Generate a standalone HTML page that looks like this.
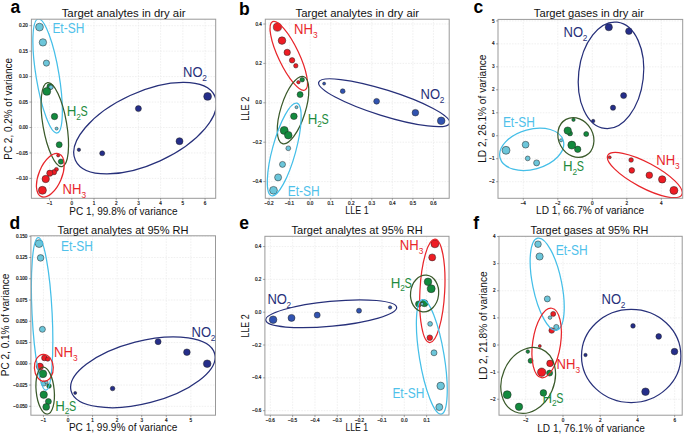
<!DOCTYPE html>
<html><head><meta charset="utf-8"><style>
html,body{margin:0;padding:0;background:#fff;}
svg{display:block;}
text{font-family:"Liberation Sans", sans-serif;}
</style></head><body>
<svg width="685" height="434" viewBox="0 0 685 434" font-family='"Liberation Sans", sans-serif'>
<rect width="685" height="434" fill="#fff"/>
<g stroke="#e9e9e9" stroke-width="0.7" stroke-dasharray="1.6 1.2"><line x1="49.59" y1="19.2" x2="49.59" y2="198.3"/><line x1="71.8" y1="19.2" x2="71.8" y2="198.3"/><line x1="94.01" y1="19.2" x2="94.01" y2="198.3"/><line x1="116.22" y1="19.2" x2="116.22" y2="198.3"/><line x1="138.43" y1="19.2" x2="138.43" y2="198.3"/><line x1="160.64" y1="19.2" x2="160.64" y2="198.3"/><line x1="182.85" y1="19.2" x2="182.85" y2="198.3"/><line x1="205.06" y1="19.2" x2="205.06" y2="198.3"/><line x1="31.4" y1="25.7" x2="215.7" y2="25.7"/><line x1="31.4" y1="51.15" x2="215.7" y2="51.15"/><line x1="31.4" y1="76.6" x2="215.7" y2="76.6"/><line x1="31.4" y1="102.05" x2="215.7" y2="102.05"/><line x1="31.4" y1="127.5" x2="215.7" y2="127.5"/><line x1="31.4" y1="152.95" x2="215.7" y2="152.95"/><line x1="31.4" y1="178.4" x2="215.7" y2="178.4"/></g>
<g stroke="#222" stroke-width="0.5"><circle cx="39.5" cy="27.1" r="3.9" fill="#6cc6da"/><circle cx="42.9" cy="42.4" r="3.7" fill="#6cc6da"/><circle cx="46.4" cy="63.1" r="3.1" fill="#6cc6da"/><circle cx="49.9" cy="86.6" r="3" fill="#138a3e"/><circle cx="51" cy="87.2" r="2.2" fill="#6cc6da"/><circle cx="46.8" cy="91.4" r="3.9" fill="#138a3e"/><circle cx="54.5" cy="116.5" r="3.2" fill="#138a3e"/><circle cx="59.2" cy="144.7" r="3" fill="#138a3e"/><circle cx="60.9" cy="161.6" r="2.6" fill="#138a3e"/><circle cx="56.6" cy="128.6" r="1.5" fill="#6cc6da"/><circle cx="58.2" cy="155.4" r="1.6" fill="#ee1c24"/><circle cx="56.4" cy="169.4" r="2" fill="#ee1c24"/><circle cx="54" cy="172.2" r="2.6" fill="#ee1c24"/><circle cx="49.8" cy="173.2" r="3.1" fill="#ee1c24"/><circle cx="45.7" cy="179" r="3.7" fill="#ee1c24"/><circle cx="42.4" cy="190.3" r="4" fill="#ee1c24"/><circle cx="78.9" cy="149.8" r="1.7" fill="#252e8a"/><circle cx="102.2" cy="153.3" r="2.5" fill="#252e8a"/><circle cx="138.4" cy="108.6" r="3" fill="#252e8a"/><circle cx="179.5" cy="141.2" r="3.5" fill="#252e8a"/><circle cx="207.6" cy="96.4" r="3.9" fill="#252e8a"/></g>
<clipPath id="ca"><rect x="31.4" y="19.2" width="184.3" height="179.1"/></clipPath>
<g fill="none" stroke-width="1.25" clip-path="url(#ca)"><ellipse cx="0" cy="0" rx="11.49" ry="57.8" transform="translate(47.62 75.94) rotate(170.62)" stroke="#45bfe8"/><ellipse cx="0" cy="0" rx="11.86" ry="42.54" transform="translate(54.8 124.6) rotate(170.23)" stroke="#3b5a2b"/><ellipse cx="0" cy="0" rx="11.51" ry="23.16" transform="translate(50.3 175.33) rotate(-157.28)" stroke="#e8262b"/><ellipse cx="0" cy="0" rx="35.96" ry="76.75" transform="translate(145.11 128.18) rotate(65.32)" stroke="#27307a"/></g>
<rect x="31.4" y="19.2" width="184.3" height="179.1" fill="none" stroke="#999" stroke-width="1"/>
<g stroke="#555" stroke-width="0.5"><line x1="49.59" y1="198.3" x2="49.59" y2="200.3"/><line x1="71.8" y1="198.3" x2="71.8" y2="200.3"/><line x1="94.01" y1="198.3" x2="94.01" y2="200.3"/><line x1="116.22" y1="198.3" x2="116.22" y2="200.3"/><line x1="138.43" y1="198.3" x2="138.43" y2="200.3"/><line x1="160.64" y1="198.3" x2="160.64" y2="200.3"/><line x1="182.85" y1="198.3" x2="182.85" y2="200.3"/><line x1="205.06" y1="198.3" x2="205.06" y2="200.3"/><line x1="29.4" y1="25.7" x2="31.4" y2="25.7"/><line x1="29.4" y1="51.15" x2="31.4" y2="51.15"/><line x1="29.4" y1="76.6" x2="31.4" y2="76.6"/><line x1="29.4" y1="102.05" x2="31.4" y2="102.05"/><line x1="29.4" y1="127.5" x2="31.4" y2="127.5"/><line x1="29.4" y1="152.95" x2="31.4" y2="152.95"/><line x1="29.4" y1="178.4" x2="31.4" y2="178.4"/></g>
<g font-size="4.6" fill="#111" stroke="#111" stroke-width="0.18"><text x="49.59" y="204.8" text-anchor="middle">−1</text><text x="71.8" y="204.8" text-anchor="middle">0</text><text x="94.01" y="204.8" text-anchor="middle">1</text><text x="116.22" y="204.8" text-anchor="middle">2</text><text x="138.43" y="204.8" text-anchor="middle">3</text><text x="160.64" y="204.8" text-anchor="middle">4</text><text x="182.85" y="204.8" text-anchor="middle">5</text><text x="205.06" y="204.8" text-anchor="middle">6</text><text x="27.9" y="27.3" text-anchor="end">0.20</text><text x="27.9" y="52.75" text-anchor="end">0.15</text><text x="27.9" y="78.2" text-anchor="end">0.10</text><text x="27.9" y="103.65" text-anchor="end">0.05</text><text x="27.9" y="129.1" text-anchor="end">0.00</text><text x="27.9" y="154.55" text-anchor="end">−0.05</text><text x="27.9" y="180" text-anchor="end">−0.10</text></g>
<text x="52.4" y="32.8" fill="#4fc1ea" font-size="14" textLength="31.9" lengthAdjust="spacingAndGlyphs">Et-SH</text>
<text x="66.7" y="116.3" fill="#1e8b3e" font-size="14" textLength="9.6" lengthAdjust="spacingAndGlyphs">H</text><text x="76.2" y="120" fill="#1e8b3e" font-size="8.3">2</text><text x="80.4" y="116.3" fill="#1e8b3e" font-size="14" textLength="7.2" lengthAdjust="spacingAndGlyphs">S</text>
<text x="62.5" y="193.8" fill="#e8262b" font-size="14" textLength="18.9" lengthAdjust="spacingAndGlyphs">NH</text><text x="81.4" y="197.5" fill="#e8262b" font-size="8.3">3</text>
<text x="183.1" y="76.8" fill="#27307a" font-size="14" textLength="19.5" lengthAdjust="spacingAndGlyphs">NO</text><text x="202.3" y="80.5" fill="#27307a" font-size="8.3">2</text>
<text x="61.7" y="16.8" font-size="11.8" textLength="123.8" lengthAdjust="spacingAndGlyphs" fill="#111">Target analytes in dry air</text>
<text x="69.3" y="214.7" font-size="10.2" textLength="108.2" lengthAdjust="spacingAndGlyphs" fill="#111">PC 1, 99.8% of variance</text>
<text x="0" y="0" transform="translate(12.3 159.7) rotate(-90)" font-size="10.2" textLength="101.7" lengthAdjust="spacingAndGlyphs" fill="#111">PC 2, 0.2% of variance</text>
<text x="10.6" y="12.8" font-size="17.5" font-weight="bold" fill="#000">a</text>
<g stroke="#e9e9e9" stroke-width="0.7" stroke-dasharray="1.6 1.2"><line x1="269.12" y1="19.2" x2="269.12" y2="198.3"/><line x1="289.66" y1="19.2" x2="289.66" y2="198.3"/><line x1="310.2" y1="19.2" x2="310.2" y2="198.3"/><line x1="330.74" y1="19.2" x2="330.74" y2="198.3"/><line x1="351.28" y1="19.2" x2="351.28" y2="198.3"/><line x1="371.82" y1="19.2" x2="371.82" y2="198.3"/><line x1="392.36" y1="19.2" x2="392.36" y2="198.3"/><line x1="412.9" y1="19.2" x2="412.9" y2="198.3"/><line x1="433.44" y1="19.2" x2="433.44" y2="198.3"/><line x1="265.3" y1="24" x2="449.2" y2="24"/><line x1="265.3" y1="63.4" x2="449.2" y2="63.4"/><line x1="265.3" y1="102.8" x2="449.2" y2="102.8"/><line x1="265.3" y1="142.2" x2="449.2" y2="142.2"/><line x1="265.3" y1="181.6" x2="449.2" y2="181.6"/></g>
<g stroke="#222" stroke-width="0.5"><circle cx="277.4" cy="27.1" r="4.1" fill="#ee1c24"/><circle cx="282" cy="40.6" r="3.8" fill="#ee1c24"/><circle cx="287.2" cy="52.4" r="3.2" fill="#ee1c24"/><circle cx="292.1" cy="60.3" r="2.7" fill="#ee1c24"/><circle cx="295.8" cy="65.8" r="2.2" fill="#ee1c24"/><circle cx="302.2" cy="79.7" r="2.3" fill="#138a3e"/><circle cx="298.4" cy="82.2" r="1.7" fill="#ee1c24"/><circle cx="300.1" cy="94.6" r="3" fill="#138a3e"/><circle cx="293.9" cy="116.3" r="3.3" fill="#138a3e"/><circle cx="284.2" cy="130.4" r="4" fill="#138a3e"/><circle cx="288.3" cy="135.2" r="3.8" fill="#138a3e"/><circle cx="296.5" cy="107.2" r="1.5" fill="#6cc6da"/><circle cx="288.3" cy="148.3" r="2.4" fill="#6cc6da"/><circle cx="282.5" cy="164.4" r="3" fill="#6cc6da"/><circle cx="278.1" cy="177.4" r="3.5" fill="#6cc6da"/><circle cx="273.5" cy="190.3" r="3.9" fill="#6cc6da"/><circle cx="324.1" cy="83.6" r="1.5" fill="#3153b0"/><circle cx="342.7" cy="91.2" r="2.4" fill="#3153b0"/><circle cx="376.6" cy="101.3" r="2.9" fill="#3153b0"/><circle cx="415.4" cy="112.7" r="3.3" fill="#3153b0"/><circle cx="441.2" cy="120.8" r="3.8" fill="#3153b0"/></g>
<clipPath id="cb"><rect x="265.3" y="19.2" width="183.9" height="179.1"/></clipPath>
<g fill="none" stroke-width="1.25" clip-path="url(#cb)"><ellipse cx="0" cy="0" rx="10.35" ry="37.82" transform="translate(288.77 55.84) rotate(154.59)" stroke="#e8262b"/><ellipse cx="0" cy="0" rx="12.23" ry="35.18" transform="translate(293.05 110.03) rotate(-162.48)" stroke="#3b5a2b"/><ellipse cx="0" cy="0" rx="11.64" ry="47.97" transform="translate(284.22 149.47) rotate(-164.66)" stroke="#45bfe8"/><ellipse cx="0" cy="0" rx="68.58" ry="12.95" transform="translate(384.18 102.73) rotate(-162.62)" stroke="#27307a"/></g>
<rect x="265.3" y="19.2" width="183.9" height="179.1" fill="none" stroke="#999" stroke-width="1"/>
<g stroke="#555" stroke-width="0.5"><line x1="269.12" y1="198.3" x2="269.12" y2="200.3"/><line x1="289.66" y1="198.3" x2="289.66" y2="200.3"/><line x1="310.2" y1="198.3" x2="310.2" y2="200.3"/><line x1="330.74" y1="198.3" x2="330.74" y2="200.3"/><line x1="351.28" y1="198.3" x2="351.28" y2="200.3"/><line x1="371.82" y1="198.3" x2="371.82" y2="200.3"/><line x1="392.36" y1="198.3" x2="392.36" y2="200.3"/><line x1="412.9" y1="198.3" x2="412.9" y2="200.3"/><line x1="433.44" y1="198.3" x2="433.44" y2="200.3"/><line x1="263.3" y1="24" x2="265.3" y2="24"/><line x1="263.3" y1="63.4" x2="265.3" y2="63.4"/><line x1="263.3" y1="102.8" x2="265.3" y2="102.8"/><line x1="263.3" y1="142.2" x2="265.3" y2="142.2"/><line x1="263.3" y1="181.6" x2="265.3" y2="181.6"/></g>
<g font-size="4.6" fill="#111" stroke="#111" stroke-width="0.18"><text x="269.12" y="204.8" text-anchor="middle">−0.2</text><text x="289.66" y="204.8" text-anchor="middle">−0.1</text><text x="310.2" y="204.8" text-anchor="middle">0.0</text><text x="330.74" y="204.8" text-anchor="middle">0.1</text><text x="351.28" y="204.8" text-anchor="middle">0.2</text><text x="371.82" y="204.8" text-anchor="middle">0.3</text><text x="392.36" y="204.8" text-anchor="middle">0.4</text><text x="412.9" y="204.8" text-anchor="middle">0.5</text><text x="433.44" y="204.8" text-anchor="middle">0.6</text><text x="261.8" y="25.6" text-anchor="end">0.4</text><text x="261.8" y="65" text-anchor="end">0.2</text><text x="261.8" y="104.4" text-anchor="end">0.0</text><text x="261.8" y="143.8" text-anchor="end">−0.2</text><text x="261.8" y="183.2" text-anchor="end">−0.4</text></g>
<text x="294.1" y="33.9" fill="#e8262b" font-size="14" textLength="18.9" lengthAdjust="spacingAndGlyphs">NH</text><text x="313" y="37.6" fill="#e8262b" font-size="8.3">3</text>
<text x="307.8" y="123.6" fill="#1e8b3e" font-size="14" textLength="9.6" lengthAdjust="spacingAndGlyphs">H</text><text x="317.3" y="127.3" fill="#1e8b3e" font-size="8.3">2</text><text x="321.5" y="123.6" fill="#1e8b3e" font-size="14" textLength="7.2" lengthAdjust="spacingAndGlyphs">S</text>
<text x="287.7" y="195.6" fill="#4fc1ea" font-size="14" textLength="31.9" lengthAdjust="spacingAndGlyphs">Et-SH</text>
<text x="420.6" y="98.9" fill="#27307a" font-size="14" textLength="19.5" lengthAdjust="spacingAndGlyphs">NO</text><text x="439.8" y="102.6" fill="#27307a" font-size="8.3">2</text>
<text x="295.5" y="16.9" font-size="11.8" textLength="123.5" lengthAdjust="spacingAndGlyphs" fill="#111">Target analytes in dry air</text>
<text x="345.3" y="214.4" font-size="10.2" textLength="23.3" lengthAdjust="spacingAndGlyphs" fill="#111">LLE 1</text>
<text x="0" y="0" transform="translate(249.4 120.8) rotate(-90)" font-size="10.2" textLength="24.2" lengthAdjust="spacingAndGlyphs" fill="#111">LLE 2</text>
<text x="239" y="14.7" font-size="17.5" font-weight="bold" fill="#000">b</text>
<g stroke="#e9e9e9" stroke-width="0.7" stroke-dasharray="1.6 1.2"><line x1="523.3" y1="19.4" x2="523.3" y2="198.3"/><line x1="557.8" y1="19.4" x2="557.8" y2="198.3"/><line x1="592.3" y1="19.4" x2="592.3" y2="198.3"/><line x1="626.8" y1="19.4" x2="626.8" y2="198.3"/><line x1="661.3" y1="19.4" x2="661.3" y2="198.3"/><line x1="498" y1="20.9" x2="682.7" y2="20.9"/><line x1="498" y1="43.87" x2="682.7" y2="43.87"/><line x1="498" y1="66.84" x2="682.7" y2="66.84"/><line x1="498" y1="89.81" x2="682.7" y2="89.81"/><line x1="498" y1="112.78" x2="682.7" y2="112.78"/><line x1="498" y1="135.75" x2="682.7" y2="135.75"/><line x1="498" y1="158.72" x2="682.7" y2="158.72"/><line x1="498" y1="181.69" x2="682.7" y2="181.69"/></g>
<g stroke="#222" stroke-width="0.5"><circle cx="593.2" cy="121" r="1.7" fill="#252e8a"/><circle cx="613" cy="107.7" r="2.6" fill="#252e8a"/><circle cx="623.6" cy="95.6" r="3" fill="#252e8a"/><circle cx="628.9" cy="31.2" r="3.3" fill="#252e8a"/><circle cx="608.8" cy="27.2" r="3.6" fill="#252e8a"/><circle cx="561.1" cy="140.3" r="1.6" fill="#6cc6da"/><circle cx="527.7" cy="158.4" r="2.4" fill="#6cc6da"/><circle cx="536.6" cy="162.9" r="3" fill="#6cc6da"/><circle cx="525.6" cy="144.7" r="3.4" fill="#6cc6da"/><circle cx="506" cy="150.3" r="4" fill="#6cc6da"/><circle cx="573.5" cy="119.8" r="1.7" fill="#138a3e"/><circle cx="586.2" cy="134" r="2.5" fill="#138a3e"/><circle cx="570" cy="133.4" r="2.5" fill="#138a3e"/><circle cx="567.7" cy="130.6" r="3.7" fill="#138a3e"/><circle cx="577.7" cy="149.3" r="3.2" fill="#138a3e"/><circle cx="571.8" cy="145.1" r="4" fill="#138a3e"/><circle cx="609.7" cy="157.3" r="1.5" fill="#ee1c24"/><circle cx="631.1" cy="160" r="2.3" fill="#ee1c24"/><circle cx="631.8" cy="170.4" r="2.8" fill="#ee1c24"/><circle cx="649.3" cy="175.2" r="3.3" fill="#ee1c24"/><circle cx="662.2" cy="179.4" r="3.7" fill="#ee1c24"/><circle cx="673.9" cy="190.4" r="4" fill="#ee1c24"/></g>
<clipPath id="cc"><rect x="498" y="19.4" width="184.7" height="178.9"/></clipPath>
<g fill="none" stroke-width="1.25" clip-path="url(#cc)"><ellipse cx="0" cy="0" rx="32.38" ry="53.5" transform="translate(610.99 75.32) rotate(-173.38)" stroke="#27307a"/><ellipse cx="0" cy="0" rx="32.8" ry="20" transform="translate(531.7 149.3) rotate(-15.45)" stroke="#45bfe8"/><ellipse cx="0" cy="0" rx="20.62" ry="17.22" transform="translate(575.85 137.52) rotate(61.49)" stroke="#3b5a2b"/><ellipse cx="0" cy="0" rx="41.91" ry="12.53" transform="translate(644.82 175.03) rotate(28.06)" stroke="#e8262b"/></g>
<rect x="498" y="19.4" width="184.7" height="178.9" fill="none" stroke="#999" stroke-width="1"/>
<g stroke="#555" stroke-width="0.5"><line x1="523.3" y1="198.3" x2="523.3" y2="200.3"/><line x1="557.8" y1="198.3" x2="557.8" y2="200.3"/><line x1="592.3" y1="198.3" x2="592.3" y2="200.3"/><line x1="626.8" y1="198.3" x2="626.8" y2="200.3"/><line x1="661.3" y1="198.3" x2="661.3" y2="200.3"/><line x1="496" y1="20.9" x2="498" y2="20.9"/><line x1="496" y1="43.87" x2="498" y2="43.87"/><line x1="496" y1="66.84" x2="498" y2="66.84"/><line x1="496" y1="89.81" x2="498" y2="89.81"/><line x1="496" y1="112.78" x2="498" y2="112.78"/><line x1="496" y1="135.75" x2="498" y2="135.75"/><line x1="496" y1="158.72" x2="498" y2="158.72"/><line x1="496" y1="181.69" x2="498" y2="181.69"/></g>
<g font-size="4.6" fill="#111" stroke="#111" stroke-width="0.18"><text x="523.3" y="204.8" text-anchor="middle">−4</text><text x="557.8" y="204.8" text-anchor="middle">−2</text><text x="592.3" y="204.8" text-anchor="middle">0</text><text x="626.8" y="204.8" text-anchor="middle">2</text><text x="661.3" y="204.8" text-anchor="middle">4</text><text x="494.5" y="22.5" text-anchor="end">5</text><text x="494.5" y="45.47" text-anchor="end">4</text><text x="494.5" y="68.44" text-anchor="end">3</text><text x="494.5" y="91.41" text-anchor="end">2</text><text x="494.5" y="114.38" text-anchor="end">1</text><text x="494.5" y="137.35" text-anchor="end">0</text><text x="494.5" y="160.32" text-anchor="end">−1</text><text x="494.5" y="183.29" text-anchor="end">−2</text></g>
<text x="563.6" y="37.1" fill="#27307a" font-size="14" textLength="19.5" lengthAdjust="spacingAndGlyphs">NO</text><text x="582.8" y="40.8" fill="#27307a" font-size="8.3">2</text>
<text x="502.9" y="126.6" fill="#4fc1ea" font-size="14" textLength="31.9" lengthAdjust="spacingAndGlyphs">Et-SH</text>
<text x="563" y="171.3" fill="#1e8b3e" font-size="14" textLength="9.6" lengthAdjust="spacingAndGlyphs">H</text><text x="572.5" y="175" fill="#1e8b3e" font-size="8.3">2</text><text x="576.7" y="171.3" fill="#1e8b3e" font-size="14" textLength="7.2" lengthAdjust="spacingAndGlyphs">S</text>
<text x="656.2" y="164.9" fill="#e8262b" font-size="14" textLength="18.9" lengthAdjust="spacingAndGlyphs">NH</text><text x="675.1" y="168.6" fill="#e8262b" font-size="8.3">3</text>
<text x="533.8" y="16.6" font-size="11.8" textLength="110.2" lengthAdjust="spacingAndGlyphs" fill="#111">Target gases in dry air</text>
<text x="536" y="214.3" font-size="10.2" textLength="108.2" lengthAdjust="spacingAndGlyphs" fill="#111">LD 1, 66.7% of variance</text>
<text x="0" y="0" transform="translate(485.8 162.8) rotate(-90)" font-size="10.2" textLength="108.3" lengthAdjust="spacingAndGlyphs" fill="#111">LD 2, 26.1% of variance</text>
<text x="473.5" y="13.3" font-size="17.5" font-weight="bold" fill="#000">c</text>
<g stroke="#e9e9e9" stroke-width="0.7" stroke-dasharray="1.6 1.2"><line x1="43.43" y1="235.8" x2="43.43" y2="415.2"/><line x1="68" y1="235.8" x2="68" y2="415.2"/><line x1="92.57" y1="235.8" x2="92.57" y2="415.2"/><line x1="117.14" y1="235.8" x2="117.14" y2="415.2"/><line x1="141.71" y1="235.8" x2="141.71" y2="415.2"/><line x1="166.28" y1="235.8" x2="166.28" y2="415.2"/><line x1="190.85" y1="235.8" x2="190.85" y2="415.2"/><line x1="30.9" y1="236.24" x2="215.5" y2="236.24"/><line x1="30.9" y1="257.5" x2="215.5" y2="257.5"/><line x1="30.9" y1="278.76" x2="215.5" y2="278.76"/><line x1="30.9" y1="300.02" x2="215.5" y2="300.02"/><line x1="30.9" y1="321.28" x2="215.5" y2="321.28"/><line x1="30.9" y1="342.54" x2="215.5" y2="342.54"/><line x1="30.9" y1="363.8" x2="215.5" y2="363.8"/><line x1="30.9" y1="385.06" x2="215.5" y2="385.06"/><line x1="30.9" y1="406.32" x2="215.5" y2="406.32"/></g>
<g stroke="#222" stroke-width="0.5"><circle cx="39.1" cy="243.6" r="3.9" fill="#6cc6da"/><circle cx="40.6" cy="257.9" r="3.3" fill="#6cc6da"/><circle cx="42.4" cy="329.3" r="3" fill="#6cc6da"/><circle cx="44.5" cy="357.9" r="2.9" fill="#ee1c24"/><circle cx="47.8" cy="359.1" r="2.2" fill="#ee1c24"/><circle cx="39.9" cy="366.6" r="3.5" fill="#ee1c24"/><circle cx="42.9" cy="373.8" r="3.9" fill="#138a3e"/><circle cx="43.8" cy="383.6" r="2.5" fill="#6cc6da"/><circle cx="46.4" cy="382.3" r="1.6" fill="#6cc6da"/><circle cx="49" cy="386" r="2.3" fill="#138a3e"/><circle cx="43.7" cy="394.7" r="3.7" fill="#138a3e"/><circle cx="48.4" cy="401.5" r="3" fill="#138a3e"/><circle cx="46.2" cy="406.9" r="3.4" fill="#138a3e"/><circle cx="75.2" cy="392.9" r="1.5" fill="#252e8a"/><circle cx="112.6" cy="388.5" r="2.3" fill="#252e8a"/><circle cx="158.1" cy="341.7" r="3" fill="#252e8a"/><circle cx="186.9" cy="352.2" r="3.3" fill="#252e8a"/><circle cx="207.2" cy="363.7" r="3.8" fill="#252e8a"/></g>
<clipPath id="cd"><rect x="30.9" y="235.8" width="184.6" height="179.4"/></clipPath>
<g fill="none" stroke-width="1.25" clip-path="url(#cd)"><ellipse cx="0" cy="0" rx="76.36" ry="10.05" transform="translate(42.1 313.89) rotate(-92.86)" stroke="#45bfe8"/><ellipse cx="0" cy="0" rx="13.47" ry="9.45" transform="translate(43.84 367.74) rotate(-92.64)" stroke="#e8262b"/><ellipse cx="0" cy="0" rx="9.03" ry="23.59" transform="translate(45.17 390.56) rotate(174.54)" stroke="#3b5a2b"/><ellipse cx="0" cy="0" rx="31.16" ry="74.16" transform="translate(142.88 372.28) rotate(75.55)" stroke="#27307a"/></g>
<rect x="30.9" y="235.8" width="184.6" height="179.4" fill="none" stroke="#999" stroke-width="1"/>
<g stroke="#555" stroke-width="0.5"><line x1="43.43" y1="415.2" x2="43.43" y2="417.2"/><line x1="68" y1="415.2" x2="68" y2="417.2"/><line x1="92.57" y1="415.2" x2="92.57" y2="417.2"/><line x1="117.14" y1="415.2" x2="117.14" y2="417.2"/><line x1="141.71" y1="415.2" x2="141.71" y2="417.2"/><line x1="166.28" y1="415.2" x2="166.28" y2="417.2"/><line x1="190.85" y1="415.2" x2="190.85" y2="417.2"/><line x1="28.9" y1="236.24" x2="30.9" y2="236.24"/><line x1="28.9" y1="257.5" x2="30.9" y2="257.5"/><line x1="28.9" y1="278.76" x2="30.9" y2="278.76"/><line x1="28.9" y1="300.02" x2="30.9" y2="300.02"/><line x1="28.9" y1="321.28" x2="30.9" y2="321.28"/><line x1="28.9" y1="342.54" x2="30.9" y2="342.54"/><line x1="28.9" y1="363.8" x2="30.9" y2="363.8"/><line x1="28.9" y1="385.06" x2="30.9" y2="385.06"/><line x1="28.9" y1="406.32" x2="30.9" y2="406.32"/></g>
<g font-size="4.6" fill="#111" stroke="#111" stroke-width="0.18"><text x="43.43" y="421.7" text-anchor="middle">−1</text><text x="68" y="421.7" text-anchor="middle">0</text><text x="92.57" y="421.7" text-anchor="middle">1</text><text x="117.14" y="421.7" text-anchor="middle">2</text><text x="141.71" y="421.7" text-anchor="middle">3</text><text x="166.28" y="421.7" text-anchor="middle">4</text><text x="190.85" y="421.7" text-anchor="middle">5</text><text x="27.4" y="237.84" text-anchor="end">0.150</text><text x="27.4" y="259.1" text-anchor="end">0.125</text><text x="27.4" y="280.36" text-anchor="end">0.100</text><text x="27.4" y="301.62" text-anchor="end">0.075</text><text x="27.4" y="322.88" text-anchor="end">0.050</text><text x="27.4" y="344.14" text-anchor="end">0.025</text><text x="27.4" y="365.4" text-anchor="end">0.000</text><text x="27.4" y="386.66" text-anchor="end">−0.025</text><text x="27.4" y="407.92" text-anchor="end">−0.050</text></g>
<text x="61" y="250.8" fill="#4fc1ea" font-size="14" textLength="31.9" lengthAdjust="spacingAndGlyphs">Et-SH</text>
<text x="54" y="357.2" fill="#e8262b" font-size="14" textLength="18.9" lengthAdjust="spacingAndGlyphs">NH</text><text x="72.9" y="360.9" fill="#e8262b" font-size="8.3">3</text>
<text x="55.3" y="410.5" fill="#1e8b3e" font-size="14" textLength="9.6" lengthAdjust="spacingAndGlyphs">H</text><text x="64.8" y="414.2" fill="#1e8b3e" font-size="8.3">2</text><text x="69" y="410.5" fill="#1e8b3e" font-size="14" textLength="7.2" lengthAdjust="spacingAndGlyphs">S</text>
<text x="191.5" y="337.1" fill="#27307a" font-size="14" textLength="19.5" lengthAdjust="spacingAndGlyphs">NO</text><text x="210.7" y="340.8" fill="#27307a" font-size="8.3">2</text>
<text x="57.4" y="233.6" font-size="11.8" textLength="131.1" lengthAdjust="spacingAndGlyphs" fill="#111">Target analytes at 95% RH</text>
<text x="68.9" y="431.3" font-size="10.2" textLength="108.4" lengthAdjust="spacingAndGlyphs" fill="#111">PC 1, 99.9% of variance</text>
<text x="0" y="0" transform="translate(9.3 376.2) rotate(-90)" font-size="10.2" textLength="102.6" lengthAdjust="spacingAndGlyphs" fill="#111">PC 2, 0.1% of variance</text>
<text x="9.5" y="228.7" font-size="17.5" font-weight="bold" fill="#000">d</text>
<g stroke="#e9e9e9" stroke-width="0.7" stroke-dasharray="1.6 1.2"><line x1="270.32" y1="236.3" x2="270.32" y2="415.1"/><line x1="292.65" y1="236.3" x2="292.65" y2="415.1"/><line x1="314.98" y1="236.3" x2="314.98" y2="415.1"/><line x1="337.31" y1="236.3" x2="337.31" y2="415.1"/><line x1="359.64" y1="236.3" x2="359.64" y2="415.1"/><line x1="381.97" y1="236.3" x2="381.97" y2="415.1"/><line x1="404.3" y1="236.3" x2="404.3" y2="415.1"/><line x1="426.63" y1="236.3" x2="426.63" y2="415.1"/><line x1="264.9" y1="246.56" x2="449" y2="246.56"/><line x1="264.9" y1="279.38" x2="449" y2="279.38"/><line x1="264.9" y1="312.2" x2="449" y2="312.2"/><line x1="264.9" y1="345.02" x2="449" y2="345.02"/><line x1="264.9" y1="377.84" x2="449" y2="377.84"/><line x1="264.9" y1="410.66" x2="449" y2="410.66"/></g>
<g stroke="#222" stroke-width="0.5"><circle cx="390.1" cy="307.4" r="1.7" fill="#3153b0"/><circle cx="359" cy="310.7" r="2.5" fill="#3153b0"/><circle cx="317.2" cy="315.1" r="3" fill="#3153b0"/><circle cx="291.5" cy="317.9" r="3.5" fill="#3153b0"/><circle cx="273.1" cy="319.7" r="3.8" fill="#3153b0"/><circle cx="434.9" cy="243.8" r="4" fill="#ee1c24"/><circle cx="432.2" cy="257.4" r="3.5" fill="#ee1c24"/><circle cx="429.8" cy="337.7" r="2.8" fill="#ee1c24"/><circle cx="428" cy="281.8" r="3.8" fill="#138a3e"/><circle cx="431.2" cy="288.7" r="4" fill="#138a3e"/><circle cx="418.6" cy="304" r="3.1" fill="#138a3e"/><circle cx="424.4" cy="303.2" r="3.5" fill="#138a3e"/><circle cx="422.1" cy="303.9" r="1.5" fill="#6cc6da"/><circle cx="430.1" cy="323.9" r="2.4" fill="#6cc6da"/><circle cx="434" cy="352.8" r="3" fill="#6cc6da"/><circle cx="440.7" cy="385.9" r="3.8" fill="#6cc6da"/><circle cx="439.3" cy="407.1" r="3.5" fill="#6cc6da"/></g>
<clipPath id="ce"><rect x="264.9" y="236.3" width="184.1" height="178.8"/></clipPath>
<g fill="none" stroke-width="1.25" clip-path="url(#ce)"><ellipse cx="0" cy="0" rx="12.45" ry="65.77" transform="translate(331.19 313.77) rotate(84.44)" stroke="#27307a"/><ellipse cx="0" cy="0" rx="12.39" ry="51.82" transform="translate(432.33 290.86) rotate(-177.06)" stroke="#e8262b"/><ellipse cx="0" cy="0" rx="57.98" ry="12.38" transform="translate(431.82 356.82) rotate(-99.36)" stroke="#45bfe8"/><ellipse cx="0" cy="0" rx="18.4" ry="14.04" transform="translate(424.6 293.5) rotate(-83.74)" stroke="#3b5a2b"/></g>
<rect x="264.9" y="236.3" width="184.1" height="178.8" fill="none" stroke="#999" stroke-width="1"/>
<g stroke="#555" stroke-width="0.5"><line x1="270.32" y1="415.1" x2="270.32" y2="417.1"/><line x1="292.65" y1="415.1" x2="292.65" y2="417.1"/><line x1="314.98" y1="415.1" x2="314.98" y2="417.1"/><line x1="337.31" y1="415.1" x2="337.31" y2="417.1"/><line x1="359.64" y1="415.1" x2="359.64" y2="417.1"/><line x1="381.97" y1="415.1" x2="381.97" y2="417.1"/><line x1="404.3" y1="415.1" x2="404.3" y2="417.1"/><line x1="426.63" y1="415.1" x2="426.63" y2="417.1"/><line x1="262.9" y1="246.56" x2="264.9" y2="246.56"/><line x1="262.9" y1="279.38" x2="264.9" y2="279.38"/><line x1="262.9" y1="312.2" x2="264.9" y2="312.2"/><line x1="262.9" y1="345.02" x2="264.9" y2="345.02"/><line x1="262.9" y1="377.84" x2="264.9" y2="377.84"/><line x1="262.9" y1="410.66" x2="264.9" y2="410.66"/></g>
<g font-size="4.6" fill="#111" stroke="#111" stroke-width="0.18"><text x="270.32" y="421.6" text-anchor="middle">−0.6</text><text x="292.65" y="421.6" text-anchor="middle">−0.5</text><text x="314.98" y="421.6" text-anchor="middle">−0.4</text><text x="337.31" y="421.6" text-anchor="middle">−0.3</text><text x="359.64" y="421.6" text-anchor="middle">−0.2</text><text x="381.97" y="421.6" text-anchor="middle">−0.1</text><text x="404.3" y="421.6" text-anchor="middle">0.0</text><text x="426.63" y="421.6" text-anchor="middle">0.1</text><text x="261.4" y="248.16" text-anchor="end">0.4</text><text x="261.4" y="280.98" text-anchor="end">0.2</text><text x="261.4" y="313.8" text-anchor="end">0.0</text><text x="261.4" y="346.62" text-anchor="end">−0.2</text><text x="261.4" y="379.44" text-anchor="end">−0.4</text><text x="261.4" y="412.26" text-anchor="end">−0.6</text></g>
<text x="399.8" y="249.9" fill="#e8262b" font-size="14" textLength="18.9" lengthAdjust="spacingAndGlyphs">NH</text><text x="418.7" y="253.6" fill="#e8262b" font-size="8.3">3</text>
<text x="390.8" y="287.6" fill="#1e8b3e" font-size="14" textLength="9.6" lengthAdjust="spacingAndGlyphs">H</text><text x="400.3" y="291.3" fill="#1e8b3e" font-size="8.3">2</text><text x="404.5" y="287.6" fill="#1e8b3e" font-size="14" textLength="7.2" lengthAdjust="spacingAndGlyphs">S</text>
<text x="267.4" y="303.9" fill="#27307a" font-size="14" textLength="19.5" lengthAdjust="spacingAndGlyphs">NO</text><text x="286.6" y="307.6" fill="#27307a" font-size="8.3">2</text>
<text x="392.4" y="397.6" fill="#4fc1ea" font-size="14" textLength="31.9" lengthAdjust="spacingAndGlyphs">Et-SH</text>
<text x="291.5" y="233.6" font-size="11.8" textLength="131.1" lengthAdjust="spacingAndGlyphs" fill="#111">Target analytes at 95% RH</text>
<text x="345.4" y="431.3" font-size="10.2" textLength="22.7" lengthAdjust="spacingAndGlyphs" fill="#111">LLE 1</text>
<text x="0" y="0" transform="translate(248.7 337.5) rotate(-90)" font-size="10.2" textLength="23.1" lengthAdjust="spacingAndGlyphs" fill="#111">LLE 2</text>
<text x="239.2" y="229.1" font-size="17.5" font-weight="bold" fill="#000">e</text>
<g stroke="#e9e9e9" stroke-width="0.7" stroke-dasharray="1.6 1.2"><line x1="525.78" y1="236.3" x2="525.78" y2="415.2"/><line x1="563" y1="236.3" x2="563" y2="415.2"/><line x1="600.22" y1="236.3" x2="600.22" y2="415.2"/><line x1="637.44" y1="236.3" x2="637.44" y2="415.2"/><line x1="674.66" y1="236.3" x2="674.66" y2="415.2"/><line x1="499" y1="236.52" x2="682.2" y2="236.52"/><line x1="499" y1="263.64" x2="682.2" y2="263.64"/><line x1="499" y1="290.76" x2="682.2" y2="290.76"/><line x1="499" y1="317.88" x2="682.2" y2="317.88"/><line x1="499" y1="345" x2="682.2" y2="345"/><line x1="499" y1="372.12" x2="682.2" y2="372.12"/><line x1="499" y1="399.24" x2="682.2" y2="399.24"/></g>
<g stroke="#222" stroke-width="0.5"><circle cx="538" cy="244.2" r="3.3" fill="#6cc6da"/><circle cx="539.6" cy="256.5" r="3.6" fill="#6cc6da"/><circle cx="547.3" cy="298.9" r="3" fill="#6cc6da"/><circle cx="553.2" cy="313.9" r="2.5" fill="#ee1c24"/><circle cx="550" cy="317.6" r="1.8" fill="#6cc6da"/><circle cx="551.7" cy="330.5" r="2.8" fill="#ee1c24"/><circle cx="556.3" cy="327" r="2.6" fill="#6cc6da"/><circle cx="539.8" cy="346" r="1.5" fill="#ee1c24"/><circle cx="527.8" cy="351.6" r="1.8" fill="#138a3e"/><circle cx="530.6" cy="360.8" r="2.5" fill="#138a3e"/><circle cx="549.6" cy="373.1" r="3" fill="#138a3e"/><circle cx="550" cy="363.4" r="3.3" fill="#ee1c24"/><circle cx="541.7" cy="372.2" r="4.2" fill="#ee1c24"/><circle cx="543.4" cy="392.9" r="3.3" fill="#138a3e"/><circle cx="507.2" cy="394.7" r="4" fill="#138a3e"/><circle cx="519" cy="406.8" r="3.7" fill="#138a3e"/><circle cx="585.5" cy="355" r="1.7" fill="#252e8a"/><circle cx="633" cy="325.9" r="2.3" fill="#252e8a"/><circle cx="658.7" cy="336.4" r="2.8" fill="#252e8a"/><circle cx="674.5" cy="351.6" r="3.3" fill="#252e8a"/><circle cx="645.5" cy="391.7" r="3.8" fill="#252e8a"/></g>
<clipPath id="cf"><rect x="499" y="236.3" width="183.2" height="178.9"/></clipPath>
<g fill="none" stroke-width="1.25" clip-path="url(#cf)"><ellipse cx="0" cy="0" rx="14.49" ry="47.06" transform="translate(547.18 284.24) rotate(168.45)" stroke="#45bfe8"/><ellipse cx="0" cy="0" rx="35.11" ry="13.94" transform="translate(546.65 342.98) rotate(-81.49)" stroke="#e8262b"/><ellipse cx="0" cy="0" rx="25.98" ry="34.07" transform="translate(528.16 380.43) rotate(-157)" stroke="#3b5a2b"/><ellipse cx="0" cy="0" rx="49.7" ry="46.6" transform="translate(631.2 355.9) rotate(0)" stroke="#27307a"/></g>
<rect x="499" y="236.3" width="183.2" height="178.9" fill="none" stroke="#999" stroke-width="1"/>
<g stroke="#555" stroke-width="0.5"><line x1="525.78" y1="415.2" x2="525.78" y2="417.2"/><line x1="563" y1="415.2" x2="563" y2="417.2"/><line x1="600.22" y1="415.2" x2="600.22" y2="417.2"/><line x1="637.44" y1="415.2" x2="637.44" y2="417.2"/><line x1="674.66" y1="415.2" x2="674.66" y2="417.2"/><line x1="497" y1="236.52" x2="499" y2="236.52"/><line x1="497" y1="263.64" x2="499" y2="263.64"/><line x1="497" y1="290.76" x2="499" y2="290.76"/><line x1="497" y1="317.88" x2="499" y2="317.88"/><line x1="497" y1="345" x2="499" y2="345"/><line x1="497" y1="372.12" x2="499" y2="372.12"/><line x1="497" y1="399.24" x2="499" y2="399.24"/></g>
<g font-size="4.6" fill="#111" stroke="#111" stroke-width="0.18"><text x="525.78" y="421.7" text-anchor="middle">−2</text><text x="563" y="421.7" text-anchor="middle">0</text><text x="600.22" y="421.7" text-anchor="middle">2</text><text x="637.44" y="421.7" text-anchor="middle">4</text><text x="674.66" y="421.7" text-anchor="middle">6</text><text x="495.5" y="238.12" text-anchor="end">4</text><text x="495.5" y="265.24" text-anchor="end">3</text><text x="495.5" y="292.36" text-anchor="end">2</text><text x="495.5" y="319.48" text-anchor="end">1</text><text x="495.5" y="346.6" text-anchor="end">0</text><text x="495.5" y="373.72" text-anchor="end">−1</text><text x="495.5" y="400.84" text-anchor="end">−2</text></g>
<text x="555.7" y="254.9" fill="#4fc1ea" font-size="14" textLength="31.9" lengthAdjust="spacingAndGlyphs">Et-SH</text>
<text x="556.6" y="368.8" fill="#e8262b" font-size="14" textLength="18.9" lengthAdjust="spacingAndGlyphs">NH</text><text x="575.5" y="372.5" fill="#e8262b" font-size="8.3">3</text>
<text x="542.5" y="402.7" fill="#1e8b3e" font-size="14" textLength="9.6" lengthAdjust="spacingAndGlyphs">H</text><text x="552" y="406.4" fill="#1e8b3e" font-size="8.3">2</text><text x="556.2" y="402.7" fill="#1e8b3e" font-size="14" textLength="7.2" lengthAdjust="spacingAndGlyphs">S</text>
<text x="601.6" y="304.4" fill="#27307a" font-size="14" textLength="19.5" lengthAdjust="spacingAndGlyphs">NO</text><text x="620.8" y="308.1" fill="#27307a" font-size="8.3">2</text>
<text x="530.5" y="233.9" font-size="11.8" textLength="117.9" lengthAdjust="spacingAndGlyphs" fill="#111">Target gases at 95% RH</text>
<text x="537.2" y="431.5" font-size="10.2" textLength="107.6" lengthAdjust="spacingAndGlyphs" fill="#111">LD 1, 76.1% of variance</text>
<text x="0" y="0" transform="translate(486.9 379.7) rotate(-90)" font-size="10.2" textLength="108.4" lengthAdjust="spacingAndGlyphs" fill="#111">LD 2, 21.8% of variance</text>
<text x="473.2" y="228.7" font-size="17.5" font-weight="bold" fill="#000">f</text>
</svg></body></html>
